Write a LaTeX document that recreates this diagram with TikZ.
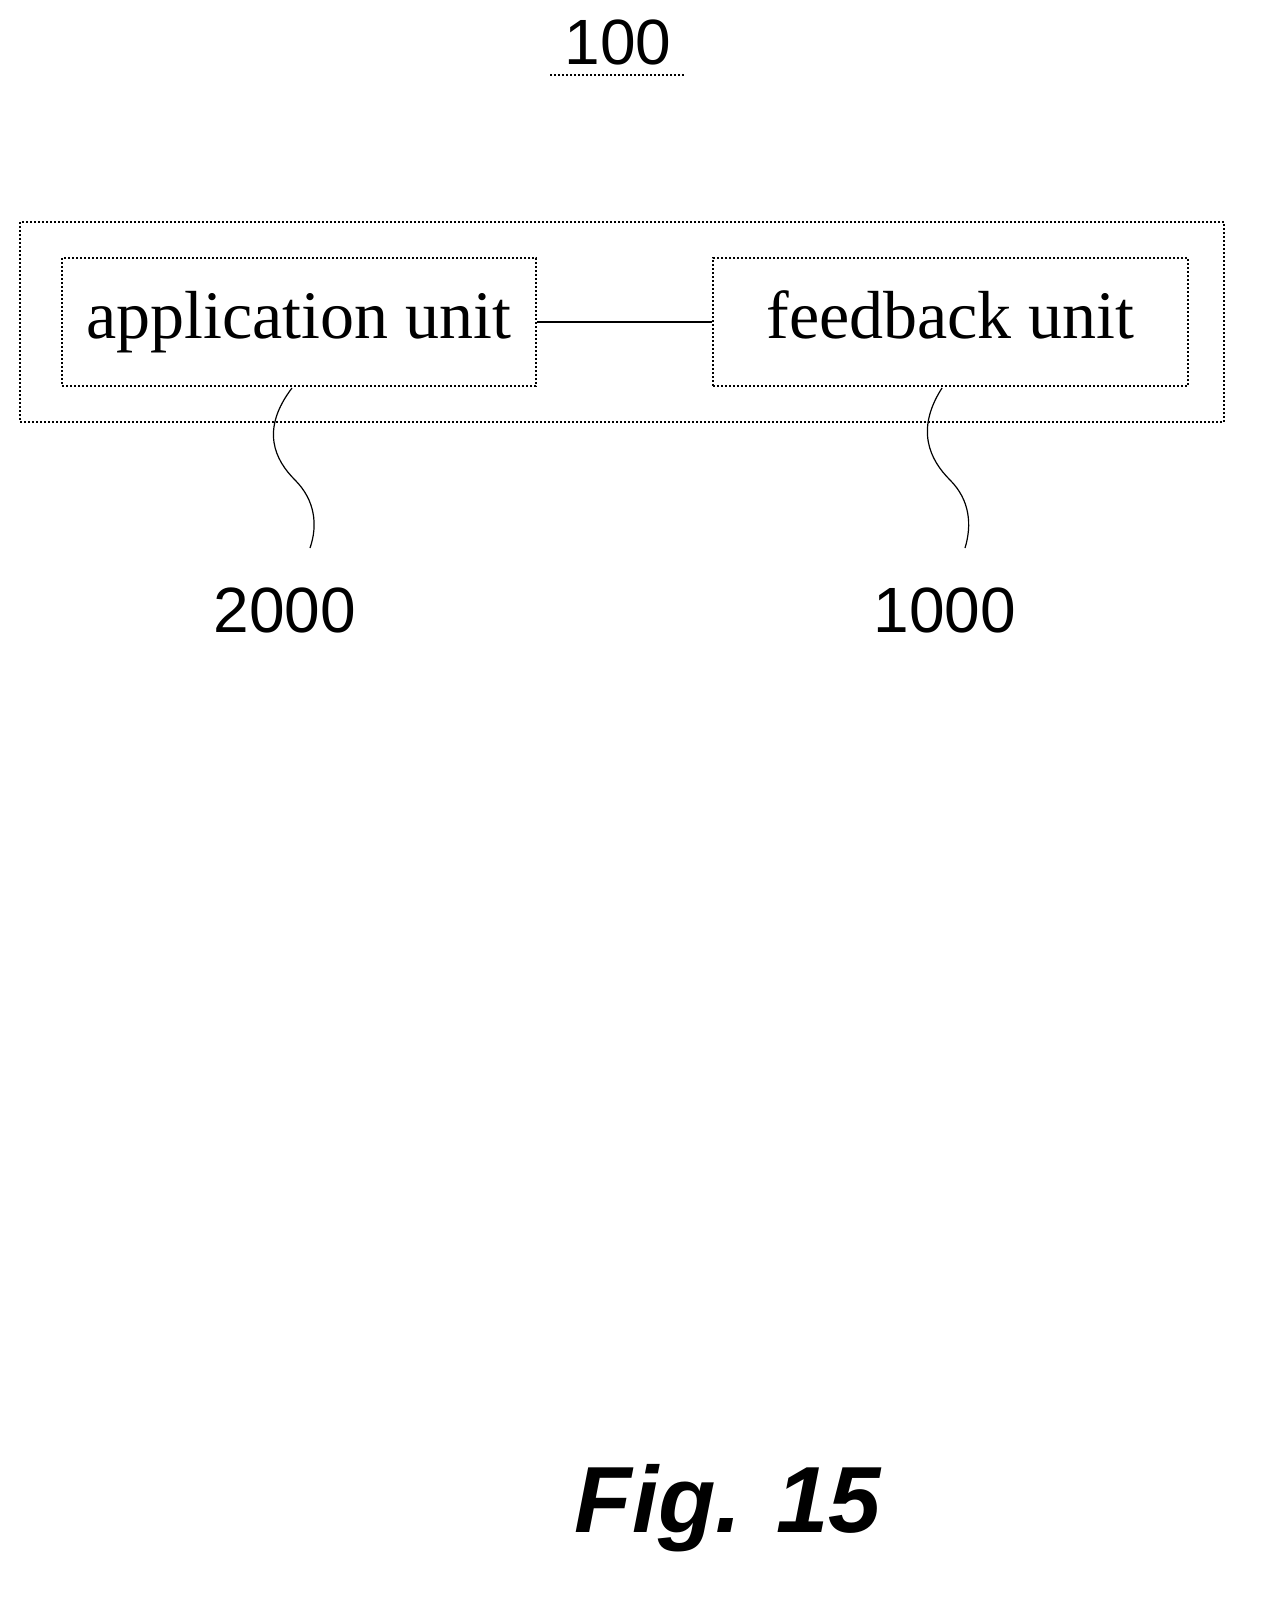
\documentclass[tikz,border=0pt]{standalone}
\usepackage{fontspec}
\setmainfont{Liberation Serif}
\newfontfamily\numfont{Liberation Sans}
\begin{document}
\begin{tikzpicture}[x=0.5pt,y=-0.5pt,
  box/.style={draw,line width=1pt,densely dotted},
  lbl/.style={font=\fontsize{34}{36}\selectfont,text height=23pt,text depth=7pt},
  num/.style={font=\numfont\fontsize{32}{34}\selectfont},
  lead/.style={line width=0.6pt}]
\useasboundingbox (0,0) rectangle (1274,1605);
\draw[box] (20,222) rectangle (1224,422);
\node[box,minimum width=237pt,minimum height=64pt,inner sep=0pt,lbl] (app) at (299,322) {application unit};
\node[box,minimum width=237.5pt,minimum height=64pt,inner sep=0pt,lbl] (fb) at (950.5,322) {feedback unit};
\draw[line width=1pt] (app.east) -- (fb.west);
\node[num] (n100) at (618,42) {100};
\draw[densely dotted,line width=1pt] (550,75) -- (686,75);
\node[num] (n2000) at (285,610) {2000};
\node[num] (n1000) at (945,610) {1000};
\coordinate (a1) at (292,388);
\coordinate (a2) at (310,548);
\coordinate (b1) at (942,388);
\coordinate (b2) at (965,548);
\draw[lead] (a1) .. controls (260,430) and (275,460) .. (295,480) .. controls (315,500) and (318,525) .. (a2);
\draw[lead] (b1) .. controls (915,430) and (930,460) .. (950,480) .. controls (970,500) and (972,525) .. (b2);
\node[font=\numfont\bfseries\itshape\fontsize{47}{50}\selectfont] (fig) at (728,1508) {Fig. 15};
\end{tikzpicture}
\end{document}
